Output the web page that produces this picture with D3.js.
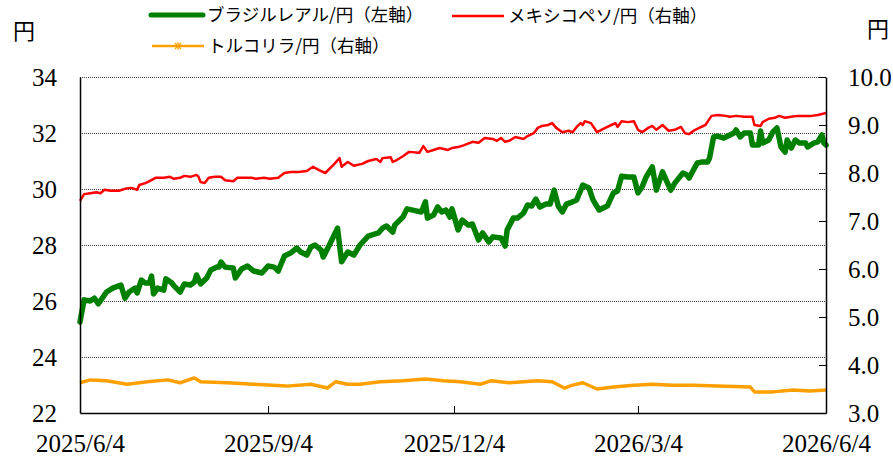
<!DOCTYPE html>
<html>
<head>
<meta charset="utf-8">
<script src="https://cdn.jsdelivr.net/npm/d3@7"></script>
<style>
  body { margin: 0; background: #fff; }
  svg { display: block; }
  .num { font-family: "Liberation Serif", "Times New Roman", serif; font-size: 25px; fill: #000; }
  .jp { font-family: "Noto Sans CJK JP", "Noto Sans", sans-serif; fill: #000; }
</style>
</head>
<body>
<div class="chart-container"></div>
<script>
// ブラジルレアル/円 (left axis)
var brlDates = ["2025-06-04","2025-06-06","2025-06-09","2025-06-11","2025-06-13","2025-06-17","2025-06-20","2025-06-24","2025-06-26","2025-06-28",
  "2025-07-01","2025-07-02","2025-07-04","2025-07-06","2025-07-08","2025-07-09","2025-07-10","2025-07-12","2025-07-15","2025-07-16",
  "2025-07-19","2025-07-20","2025-07-23","2025-07-25","2025-07-28","2025-07-30","2025-07-31","2025-08-02","2025-08-05","2025-08-07",
  "2025-08-10","2025-08-11","2025-08-12","2025-08-14","2025-08-18","2025-08-19","2025-08-22","2025-08-25","2025-08-28","2025-09-01",
  "2025-09-04","2025-09-07","2025-09-09","2025-09-12","2025-09-15","2025-09-18","2025-09-20","2025-09-23","2025-09-25","2025-09-27",
  "2025-09-30","2025-10-01","2025-10-04","2025-10-08","2025-10-10","2025-10-13","2025-10-16","2025-10-19","2025-10-23","2025-10-28",
  "2025-10-30","2025-11-01","2025-11-04","2025-11-05","2025-11-09","2025-11-11","2025-11-16","2025-11-18","2025-11-20","2025-11-21",
  "2025-11-24","2025-11-26","2025-11-28","2025-11-30","2025-12-02","2025-12-03","2025-12-06","2025-12-08","2025-12-11","2025-12-13",
  "2025-12-16","2025-12-18","2025-12-21","2025-12-23","2025-12-27","2025-12-29","2025-12-30","2026-01-02","2026-01-04","2026-01-07",
  "2026-01-09","2026-01-11","2026-01-13","2026-01-15","2026-01-18","2026-01-20","2026-01-22","2026-01-24","2026-01-26","2026-01-28",
  "2026-01-31","2026-02-02","2026-02-04","2026-02-05","2026-02-08","2026-02-10","2026-02-13","2026-02-16","2026-02-17","2026-02-20",
  "2026-02-22","2026-02-24","2026-02-27","2026-03-02","2026-03-04","2026-03-06","2026-03-08","2026-03-11","2026-03-13","2026-03-16",
  "2026-03-20","2026-03-22","2026-03-26","2026-03-28","2026-03-29","2026-04-02","2026-04-04","2026-04-07","2026-04-08","2026-04-10",
  "2026-04-12","2026-04-15","2026-04-17","2026-04-20","2026-04-21","2026-04-23","2026-04-25","2026-04-28","2026-04-29","2026-05-02",
  "2026-05-03","2026-05-04","2026-05-07","2026-05-09","2026-05-11","2026-05-13","2026-05-15","2026-05-16","2026-05-18","2026-05-20",
  "2026-05-22","2026-05-25","2026-05-26","2026-05-29","2026-05-31","2026-06-02","2026-06-03","2026-06-04"];
var brlValues = [25.25,26.04,26.0,26.1,25.9,26.32,26.46,26.57,26.1,26.32,
  26.46,26.29,26.75,26.64,26.64,26.89,26.25,26.46,26.39,26.79,
  26.64,26.54,26.32,26.61,26.57,26.68,26.93,26.61,26.82,27.11,
  27.21,27.21,27.39,27.21,27.18,26.82,27.14,27.25,27.07,27.0,
  27.25,27.21,27.07,27.61,27.71,27.89,27.75,27.64,27.93,28.0,
  27.82,27.57,28.0,28.6,27.4,27.75,27.64,28.0,28.32,28.43,
  28.6,28.68,28.46,28.71,29.0,29.29,29.21,29.18,29.54,28.96,
  29.07,29.36,29.18,29.25,29.0,29.29,28.54,28.89,28.71,28.75,
  28.18,28.43,28.11,28.29,28.25,27.96,28.54,28.96,28.96,29.14,
  29.43,29.39,29.64,29.36,29.46,29.46,29.96,29.39,29.18,29.46,
  29.54,29.61,29.96,30.14,30.04,29.61,29.25,29.36,29.39,29.86,
  29.93,30.46,30.43,30.43,29.86,30.07,30.43,30.79,29.96,30.61,
  29.96,30.21,30.57,30.5,30.39,30.93,30.96,30.96,31.1,31.86,
  31.89,31.82,31.89,32.0,32.11,31.86,32.0,32.0,31.57,31.57,
  32.07,31.64,31.75,32.04,32.18,31.5,31.32,31.75,31.46,31.75,
  31.64,31.64,31.5,31.64,31.68,31.93,31.64,31.57];

// メキシコペソ/円 (right axis)
var mxnDates = ["2025-06-04","2025-06-06","2025-06-09","2025-06-12","2025-06-14","2025-06-16","2025-06-19","2025-06-23","2025-06-26","2025-06-29",
  "2025-07-02","2025-07-03","2025-07-06","2025-07-08","2025-07-11","2025-07-15","2025-07-18","2025-07-20","2025-07-23","2025-07-25",
  "2025-07-28","2025-07-31","2025-08-01","2025-08-02","2025-08-04","2025-08-06","2025-08-09","2025-08-12","2025-08-14","2025-08-18",
  "2025-08-20","2025-08-24","2025-08-27","2025-08-29","2025-09-02","2025-09-05","2025-09-09","2025-09-12","2025-09-15","2025-09-19",
  "2025-09-23","2025-09-26","2025-09-29","2025-10-02","2025-10-06","2025-10-09","2025-10-10","2025-10-13","2025-10-16","2025-10-20",
  "2025-10-23","2025-10-27","2025-10-29","2025-10-30","2025-11-03","2025-11-04","2025-11-06","2025-11-09","2025-11-12","2025-11-17",
  "2025-11-19","2025-11-21","2025-11-24","2025-11-27","2025-12-01","2025-12-03","2025-12-06","2025-12-09","2025-12-13","2025-12-16",
  "2025-12-19","2025-12-23","2025-12-25","2025-12-27","2025-12-29","2025-12-31","2026-01-03","2026-01-07","2026-01-09","2026-01-12",
  "2026-01-14","2026-01-16","2026-01-19","2026-01-21","2026-01-23","2026-01-26","2026-01-29","2026-01-31","2026-02-02","2026-02-04",
  "2026-02-05","2026-02-06","2026-02-09","2026-02-12","2026-02-16","2026-02-19","2026-02-21","2026-02-22","2026-02-24","2026-02-27",
  "2026-03-02","2026-03-04","2026-03-06","2026-03-09","2026-03-11","2026-03-13","2026-03-16","2026-03-19","2026-03-22","2026-03-25",
  "2026-03-27","2026-03-29","2026-04-01","2026-04-03","2026-04-06","2026-04-09","2026-04-12","2026-04-16","2026-04-18","2026-04-21",
  "2026-04-25","2026-04-29","2026-04-30","2026-05-03","2026-05-04","2026-05-07","2026-05-10","2026-05-12","2026-05-15","2026-05-18",
  "2026-05-21","2026-05-25","2026-05-28","2026-05-31","2026-06-02","2026-06-04"];
var mxnValues = [7.42,7.56,7.58,7.6,7.58,7.65,7.63,7.63,7.67,7.69,
  7.65,7.75,7.79,7.83,7.9,7.9,7.92,7.88,7.9,7.94,
  7.92,7.96,7.92,7.81,7.79,7.9,7.92,7.92,7.85,7.83,
  7.9,7.9,7.9,7.88,7.9,7.88,7.9,8.0,8.02,8.02,
  8.04,8.13,8.06,8.0,8.17,8.31,8.13,8.23,8.15,8.19,
  8.25,8.29,8.23,8.31,8.33,8.23,8.27,8.35,8.44,8.42,
  8.56,8.44,8.48,8.52,8.48,8.52,8.54,8.58,8.65,8.63,
  8.73,8.71,8.67,8.73,8.65,8.67,8.75,8.71,8.77,8.83,
  8.94,8.98,9.0,9.04,8.94,8.85,8.88,8.85,8.96,9.04,
  9.0,9.08,9.04,8.85,8.94,9.0,9.04,8.96,9.08,9.06,
  9.08,8.9,8.85,8.94,8.98,8.9,9.0,8.88,8.9,8.96,
  8.83,8.81,8.9,8.94,9.0,9.19,9.21,9.19,9.17,9.19,
  9.17,9.17,9.0,8.98,9.06,9.13,9.15,9.19,9.15,9.17,
  9.19,9.19,9.19,9.21,9.23,9.25];

// トルコリラ/円 (right axis)
var tryDates = ["2025-06-04","2025-06-09","2025-06-17","2025-06-27","2025-07-07","2025-07-17","2025-07-23","2025-07-30","2025-08-02","2025-08-15",
  "2025-08-28","2025-09-13","2025-09-25","2025-10-03","2025-10-07","2025-10-13","2025-10-19","2025-10-29","2025-11-09","2025-11-20",
  "2025-11-29","2025-12-07","2025-12-17","2025-12-22","2025-12-31","2026-01-14","2026-01-21","2026-01-27","2026-01-31","2026-02-05",
  "2026-02-12","2026-02-20","2026-03-02","2026-03-11","2026-03-21","2026-03-31","2026-04-12","2026-04-28","2026-04-30","2026-05-09",
  "2026-05-19","2026-05-27","2026-06-04"];
var tryValues = [3.63,3.69,3.67,3.6,3.65,3.69,3.63,3.73,3.65,3.63,
  3.6,3.56,3.6,3.52,3.65,3.6,3.6,3.65,3.67,3.71,
  3.67,3.65,3.6,3.67,3.63,3.67,3.65,3.52,3.58,3.63,
  3.5,3.54,3.58,3.6,3.58,3.58,3.56,3.54,3.44,3.44,
  3.48,3.46,3.48];

var xTickDates = ["2025-06-04","2025-09-04","2025-12-04","2026-03-04","2026-06-04"];
var xTickLabels = ["2025/6/4","2025/9/4","2025/12/4","2026/3/4","2026/6/4"];
var leftTicks = [22,24,26,28,30,32,34];
var rightTicks = [3,4,5,6,7,8,9,10];
var seriesNames = ["ブラジルレアル/円（左軸）","メキシコペソ/円（右軸）","トルコリラ/円（右軸）"];

var W = 893, H = 458;
var margin = {top: 77, right: 67, bottom: 45, left: 80},
    width = W - margin.left - margin.right,
    height = H - margin.top - margin.bottom;

var parse = d3.timeParse("%Y-%m-%d");

var svg = d3.select(".chart-container").append("svg")
    .attr("width", W)
    .attr("height", H);

var x = d3.scaleTime()
    .domain([parse(xTickDates[0]), parse(xTickDates[xTickDates.length - 1])])
    .range([0, width]);
var yL = d3.scaleLinear().domain([22, 34]).range([height, 0]);
var yR = d3.scaleLinear().domain([3, 10]).range([height, 0]);

var g = svg.append("g")
    .attr("transform", "translate(" + margin.left + "," + margin.top + ")");

// gridlines (left axis), incl. top border
g.append("g").selectAll("line")
    .data(leftTicks.slice(1))
    .enter().append("line")
    .attr("x1", 0).attr("x2", width)
    .attr("y1", function(d) { return Math.round(yL(d)) + 0.5; })
    .attr("y2", function(d) { return Math.round(yL(d)) + 0.5; })
    .style("stroke", "#444")
    .style("stroke-width", 1)
    .style("stroke-dasharray", "1,1");

function zip(dates, vals) {
  return dates.map(function(d, i) { return {date: parse(d), value: vals[i]}; });
}

var lineL = d3.line().x(function(d) { return x(d.date); }).y(function(d) { return yL(d.value); });
var lineR = d3.line().x(function(d) { return x(d.date); }).y(function(d) { return yR(d.value); });

g.append("path")
    .datum(zip(tryDates, tryValues))
    .attr("d", lineR)
    .style("fill", "none")
    .style("stroke", "#ffa000")
    .style("stroke-width", 3.5)
    .style("stroke-linejoin", "round");

g.append("path")
    .datum(zip(mxnDates, mxnValues))
    .attr("d", lineR)
    .style("fill", "none")
    .style("stroke", "#ff0000")
    .style("stroke-width", 2.5)
    .style("stroke-linejoin", "round");

g.append("path")
    .datum(zip(brlDates, brlValues))
    .attr("d", lineL)
    .style("fill", "none")
    .style("stroke", "#008000")
    .style("stroke-width", 5.5)
    .style("stroke-linejoin", "round")
    .style("stroke-linecap", "round");

// axes
var xAxis = g.append("g")
    .attr("transform", "translate(0," + height + ")")
    .call(d3.axisBottom(x)
        .tickValues(xTickDates.map(parse))
        .tickSizeInner(-7).tickSizeOuter(0)
        .tickFormat(function(d, i) { return xTickLabels[i]; }));
xAxis.selectAll("text").attr("class", "num").attr("y", 21);

var lAxis = g.append("g")
    .call(d3.axisLeft(yL).tickValues(leftTicks).tickSize(0).tickPadding(23).tickFormat(d3.format("d")));
lAxis.selectAll("text").attr("class", "num");

var rAxis = g.append("g")
    .attr("transform", "translate(" + width + ",0)")
    .call(d3.axisRight(yR).tickValues(rightTicks).tickSizeInner(-7).tickSizeOuter(0).tickFormat(d3.format(".1f")));
rAxis.selectAll("text").attr("class", "num").attr("x", 22);

svg.selectAll(".domain").style("stroke", "#000").style("stroke-width", 1.5);
svg.selectAll(".tick line").style("stroke", "#000");
g.selectAll("g").attr("font-family", null).attr("font-size", null);

// unit labels
svg.append("text").attr("class", "jp").attr("x", 24).attr("y", 39)
    .attr("text-anchor", "middle").style("font-size", "22px").text("円");
svg.append("text").attr("class", "jp").attr("x", 878).attr("y", 37)
    .attr("text-anchor", "middle").style("font-size", "22px").text("円");

// legend
var legend = [
  {x: 151, y: 15, color: "#008000", w: 5, name: seriesNames[0]},
  {x: 452, y: 16, color: "#ff0000", w: 2.5, name: seriesNames[1]},
  {x: 152, y: 46, color: "#ffa000", w: 2.5, name: seriesNames[2]}
];
legend.forEach(function(l, i) {
  svg.append("line")
      .attr("x1", l.x).attr("x2", l.x + 52).attr("y1", l.y).attr("y2", l.y)
      .style("stroke", l.color).style("stroke-width", l.w)
      .style("stroke-linecap", i === 0 ? "round" : "butt");
  svg.append("text").attr("class", "jp")
      .attr("x", l.x + 56).attr("y", l.y).attr("dy", "0.35em")
      .style("font-size", "17.5px").text(l.name);
});
// marker on the lira legend line
var mk = svg.append("g").attr("transform", "translate(178,46)")
    .style("stroke", "#ffa000").style("stroke-width", 1.2);
mk.append("line").attr("x1", -3).attr("x2", 3).attr("y1", -3).attr("y2", 3);
mk.append("line").attr("x1", -3).attr("x2", 3).attr("y1", 3).attr("y2", -3);
mk.append("line").attr("x1", 0).attr("x2", 0).attr("y1", -4).attr("y2", 4);
</script>
</body>
</html>
